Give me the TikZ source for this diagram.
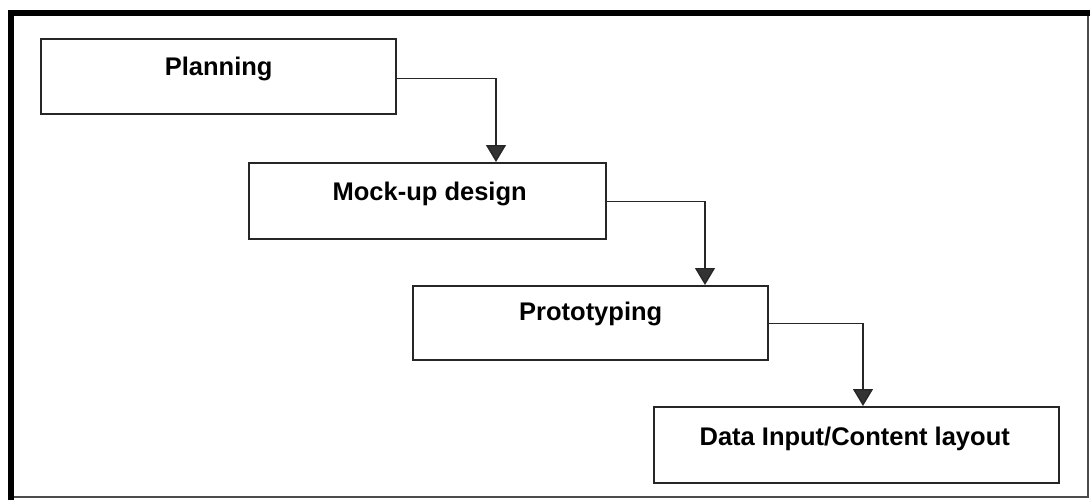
\documentclass[tikz,border=0pt]{standalone}
\usepackage{fontspec}
\setmainfont{Liberation Sans}
\usetikzlibrary{arrows.meta,calc}

\tikzset{
  stagebox/.style={draw=black!85, line width=2.4pt, inner sep=0pt},
  stagetext/.style={font=\bfseries\fontsize{25.5}{30}\selectfont, anchor=base, inner sep=0pt},
  flow/.style={draw=black!85, line width=1.4pt,
    -{Triangle[width=20pt,length=17pt,fill=black!80]}},
  frame/.style={draw=black, line cap=rect}
}

\begin{document}
\begin{tikzpicture}[x=1pt,y=-1pt]
  \useasboundingbox (0,0) rectangle (1090,503);

  % outer frame: heavy top and left edges, light right and bottom edges
  \coordinate (tl) at (11,13);
  \coordinate (tr) at (1088,13);
  \coordinate (bl) at (11,497);
  \coordinate (br) at (1088,497);
  \draw[frame, line width=1.5pt, draw=black!70] (tr) -- (br) -- (bl);
  \draw[frame, line width=6pt] (bl) -- (tl) -- (tr);

  % stage boxes
  \node[stagebox, minimum width=355pt, minimum height=75pt, anchor=north west] (plan) at (40,38) {};
  \node[stagebox, minimum width=357pt, minimum height=76pt, anchor=north west] (mock) at (248,162) {};
  \node[stagebox, minimum width=355pt, minimum height=74pt, anchor=north west] (proto) at (412,285) {};
  \node[stagebox, minimum width=405pt, minimum height=76pt, anchor=north west] (data) at (653,406) {};

  % stage labels
  \node[stagetext] (plan-t)  at ($(plan.north)+(0,37)$)  {Planning};
  \node[stagetext] (mock-t)  at ($(mock.north)+(2,38)$)  {Mock-up design};
  \node[stagetext] (proto-t) at ($(proto.north)+(0,35)$) {Prototyping};
  \node[stagetext] (data-t)  at ($(data.north)+(-2,39)$) {Data Input/Content layout};

  % arrow entry points on the top edges
  \coordinate (mock-in)  at ($(mock.north west)+(248,0)$);
  \coordinate (proto-in) at ($(proto.north west)+(293,0)$);
  \coordinate (data-in)  at ($(data.north west)+(210,0)$);

  % connectors
  \draw[flow] ($(plan.east)+(0,2)$) -| (mock-in);
  \draw[flow] (mock.east) -| (proto-in);
  \draw[flow] (proto.east) -| (data-in);
\end{tikzpicture}
\end{document}
